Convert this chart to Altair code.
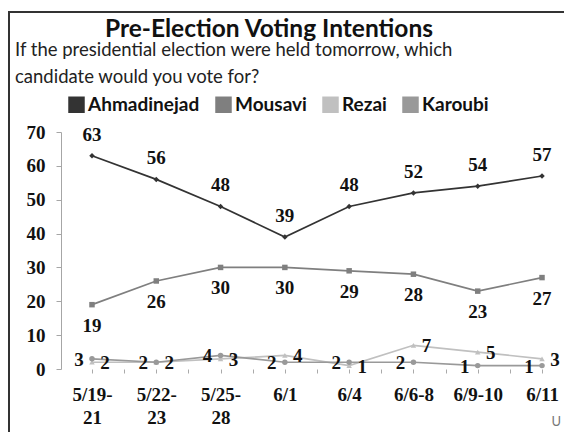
import json
import altair as alt
import pandas as pd

# ---------------- data ----------------
dates = ["5/19-21", "5/22-23", "5/25-28", "6/1", "6/4", "6/6-8", "6/9-10", "6/11"]
tick_labels = [["5/19-", "21"], ["5/22-", "23"], ["5/25-", "28"],
               "6/1", "6/4", "6/6-8", "6/9-10", "6/11"]
candidates = ["Ahmadinejad", "Mousavi", "Rezai", "Karoubi"]
ahmadinejad = [63, 56, 48, 39, 48, 52, 54, 57]
mousavi = [19, 26, 30, 30, 29, 28, 23, 27]
rezai = [2, 2, 3, 4, 1, 7, 5, 3]
karoubi = [3, 2, 4, 2, 2, 2, 1, 1]
colors = ["#333333", "#7f7f7f", "#c0c0c0", "#999999"]
shapes = ["diamond", "square", "triangle-up", "circle"]
title_text = "Pre-Election Voting Intentions"
subtitle_lines = ["If the presidential election were held tomorrow, which",
                  "candidate would you vote for?"]

rows = []
for cand, vals in zip(candidates, [ahmadinejad, mousavi, rezai, karoubi]):
    for i, (d, v) in enumerate(zip(dates, vals)):
        rows.append({"cand": cand, "idx": i, "date": d, "value": v})
df = pd.DataFrame(rows)
one = pd.DataFrame({"k": [0]})

NUM_FONT = "Liberation Serif"
SANS = "Lato"

label_expr = ("datum.value % 1 == 0 ? " + json.dumps(tick_labels) +
              "[datum.value] : ''")

x_enc = alt.X(
    "idx:Q",
    scale=alt.Scale(domain=[-0.482, 7.342], nice=False, zero=False),
    axis=alt.Axis(values=[i / 2 for i in range(15)], labelExpr=label_expr,
                  title=None, grid=False, domain=False, tickSize=4,
                  tickColor="#aaaaaa", labelFont=NUM_FONT, labelFontWeight="bold",
                  labelFontSize=19, labelColor="#111111", labelPadding=12,
                  labelLineHeight=23, labelOverlap=False, labelFlush=False),
)
y_enc = alt.Y(
    "value:Q",
    scale=alt.Scale(domain=[0, 70], nice=False),
    axis=alt.Axis(values=list(range(0, 71, 10)), title=None, grid=False,
                  domainColor="#a6a6a6", tickColor="#a6a6a6", tickSize=5,
                  labelPadding=11, labelFont=NUM_FONT, labelFontWeight="bold",
                  labelFontSize=19, labelColor="#111111"),
)

base = alt.Chart(df)
cscale = alt.Scale(domain=candidates, range=colors)

lines = base.mark_line(strokeWidth=1.7).encode(
    x=x_enc, y=y_enc,
    color=alt.Color("cand:N", scale=cscale,
                    legend=alt.Legend(title=None, orient="none", legendX=6, legendY=-37,
                                      direction="horizontal", symbolType="square",
                                      symbolSize=272, symbolStrokeWidth=0,
                                      symbolOpacity=1, labelFont=SANS,
                                      labelFontWeight="bold", labelFontSize=19,
                                      labelColor="#111111", labelOffset=2,
                                      columnPadding=14, padding=0)),
)


def marker_layer(cand, shape):
    return base.transform_filter(alt.datum.cand == cand).mark_point(
        filled=True, size=30, opacity=1, shape=shape,
    ).encode(x=x_enc, y=y_enc, color=alt.Color("cand:N", scale=cscale))


markers = [marker_layer(c, s) for c, s in zip(candidates, shapes)]


def value_labels(cand, dx, dy):
    return base.transform_filter(alt.datum.cand == cand).mark_text(
        dx=dx, dy=dy, font=NUM_FONT, fontWeight="bold", fontSize=19,
        color="#111111", baseline="middle", align="center",
    ).encode(x=x_enc, y=y_enc, text="value:Q")


labels = [
    value_labels("Ahmadinejad", 0, -21),
    value_labels("Mousavi", 0, 21),
    value_labels("Rezai", 13, 1),
    value_labels("Karoubi", -13, 1),
]

frame_left = alt.Chart(one).mark_rule(color="#333333", strokeWidth=2).encode(
    x=alt.value(-52), y=alt.value(-120), y2=alt.value(320))
frame_top = alt.Chart(one).mark_rule(color="#333333", strokeWidth=2).encode(
    x=alt.value(-53), x2=alt.value(520), y=alt.value(-120))

title = alt.Chart(one).mark_text(
    text=title_text, font=SANS, fontWeight="bold", fontSize=24.5,
    align="center", baseline="alphabetic", color="#111111",
).encode(x=alt.value(208), y=alt.value(-95))

subtitle = alt.Chart(one).mark_text(
    text=subtitle_lines, font=SANS, fontSize=18.5, lineHeight=27,
    align="left", baseline="alphabetic", color="#222222",
).encode(x=alt.value(-46), y=alt.value(-76))

source = alt.Chart(one).mark_text(
    text="U", font=SANS, fontSize=13, align="right", baseline="alphabetic",
    color="#777777",
).encode(x=alt.value(500), y=alt.value(294))

chart = alt.layer(
    frame_left, frame_top, title, subtitle, lines, *markers, *labels, source
).properties(
    width=503, height=237,
    autosize=alt.AutoSizeParams(type="none"),
    padding={"left": 53, "top": 124, "right": 0, "bottom": 63},
    background="white",
).configure_view(stroke=None)

chart.save("out.html", embed_options={"renderer": "svg", "actions": False})
